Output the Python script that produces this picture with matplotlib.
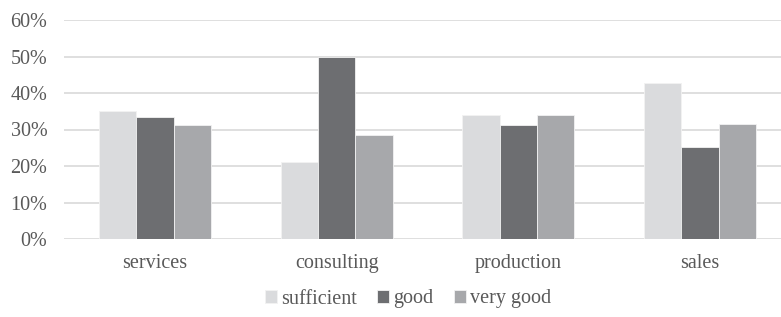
import numpy as np
import matplotlib.pyplot as plt
from matplotlib.ticker import PercentFormatter

# data
categories = ["services", "consulting", "production", "sales"]
sufficient = [35.0, 21.2, 34.1, 42.7]
good = [33.3, 50.0, 31.2, 25.3]
very_good = [31.2, 28.4, 34.1, 31.6]

series = [("sufficient", sufficient, "#dadbdd"),
          ("good", good, "#6d6e71"),
          ("very good", very_good, "#a7a8ab")]

plt.rcParams["font.family"] = ["Liberation Serif", "DejaVu Serif"]
text_color = "#595959"

fig = plt.figure(figsize=(7.81, 3.17), dpi=100)
ax = fig.add_axes([64 / 781, 78 / 317, 727 / 781, 219 / 317])

x = np.arange(len(categories))
width = 0.205

for i, (name, vals, color) in enumerate(series):
    ax.bar(x + (i - 1) * width, np.array(vals) / 100, width, color=color,
           edgecolor="#f2f2f2", linewidth=0.6, label=name, zorder=3)

ax.set_xlim(-0.5, len(categories) - 0.5)
ax.set_ylim(0, 0.6)
ax.set_yticks(np.arange(0, 0.61, 0.1))
ax.yaxis.set_major_formatter(PercentFormatter(1.0, decimals=0))
ax.grid(axis="y", color="#d9d9d9", linewidth=1.2, zorder=0)
ax.set_xticks(x)
ax.set_xticklabels(categories)

for s in ax.spines.values():
    s.set_visible(False)

ax.tick_params(axis="both", length=0, labelsize=14.5, colors=text_color)
ax.tick_params(axis="y", pad=12)
ax.tick_params(axis="x", pad=11)

fig.legend(loc="center", bbox_to_anchor=(408 / 781, 1 - 299 / 317),
           ncol=3, frameon=False,
           prop={"family": "Liberation Serif", "size": 14.5},
           labelcolor=text_color,
           handlelength=0.6, handleheight=0.6, handletextpad=0.2,
           columnspacing=1.0)

fig.savefig("out.png", dpi=100)
